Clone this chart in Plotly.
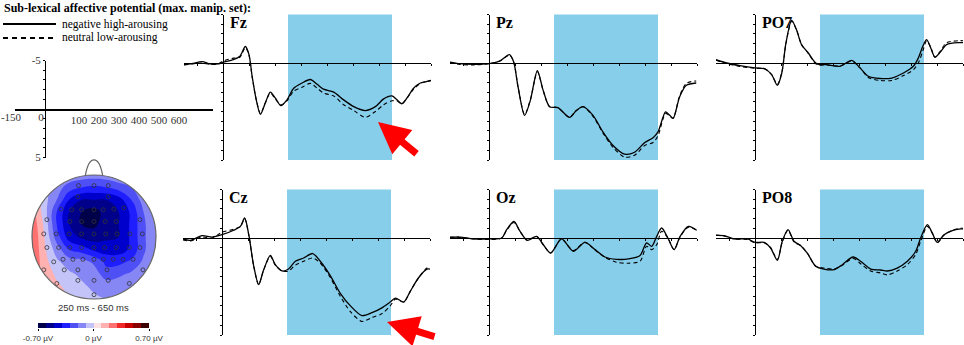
import numpy as np
import plotly.graph_objects as go

W, H = 964, 345

# ---------------- ERP data (µV, positive plotted downward) ----------------
t_fz = [-150, -120, -80, -50, -20, 0, 40, 65, 86, 100, 112, 128, 144, 163, 182, 201, 223, 246, 272, 304,
        336, 362, 387, 426, 464, 503, 547, 586, 618, 650, 669, 688, 708, 733, 759, 785, 800]
fz_neg = [0.17, 0.07, -0.14, 0.1, 0.1, -0.07, -0.34, -0.7, -1.7, -0.86, 1.37, 3.8, 5.3, 4.1, 3.0, 3.6, 4.4, 3.8, 2.6, 2.06,
          1.7, 2.2, 2.7, 3.0, 3.8, 4.5, 4.9, 4.5, 3.7, 3.4, 3.8, 4.2, 3.6, 2.6, 2.06, 1.9, 1.8]
fz_neu = [0.2, 0.1, 0.0, 0.15, 0.1, -0.2, -0.5, -0.6, -1.6, -0.8, 1.4, 3.8, 5.2, 4.1, 3.1, 3.7, 4.3, 3.9, 2.9, 2.5,
          2.1, 2.6, 3.1, 3.4, 4.3, 4.9, 5.6, 5.0, 4.3, 3.9, 3.9, 4.2, 3.6, 2.7, 2.1, 1.9, 1.8]

t_cz = [-150, -122, -77, -38, 0, 45, 71, 87, 103, 122, 141, 160, 186, 205, 231, 256, 282, 314, 349, 378,
        417, 455, 494, 538, 577, 615, 647, 667, 699, 724, 756, 788, 800]
cz_neg = [0.1, 0.24, -0.24, -0.1, -0.34, -0.8, -1.2, -2.06, -0.34, 2.9, 4.8, 3.3, 1.8, 2.75, 3.4, 3.2, 2.4, 2.06, 1.6, 2.4,
          3.9, 5.7, 7.0, 8.0, 7.7, 7.2, 6.6, 6.2, 6.6, 5.5, 4.1, 3.2, 3.2]
cz_neu = [0.2, 0.3, -0.1, 0.0, -0.6, -0.9, -1.2, -2.0, -0.3, 2.9, 4.8, 3.3, 1.9, 2.8, 3.4, 3.4, 2.8, 2.4, 2.06, 2.6,
          4.1, 6.0, 7.6, 8.6, 8.2, 7.8, 7.0, 6.3, 6.6, 5.5, 4.1, 3.1, 3.0]

t_pz = [-150, -113, -62, 0, 41, 79, 95, 112, 137, 159, 186, 208, 233, 265, 310, 336, 362, 400, 438, 477,
        522, 560, 599, 631, 650, 679, 692, 708, 733, 759, 797]
pz_neg = [-0.1, 0.07, 0.14, 0.07, -0.2, -0.86, -0.1, 2.5, 5.4, 3.85, 0.8, 2.8, 4.5, 4.6, 5.6, 4.9, 4.5, 5.4, 7.1, 8.5,
          9.4, 9.2, 8.2, 7.7, 7.1, 5.05, 5.3, 5.7, 3.5, 2.3, 2.06]
pz_neu = [-0.05, 0.15, 0.2, 0.07, -0.2, -0.8, -0.1, 2.5, 5.3, 3.8, 0.9, 2.8, 4.5, 4.6, 5.6, 4.9, 4.5, 5.5, 7.2, 8.7,
          9.7, 9.5, 8.5, 8.2, 7.5, 5.2, 5.4, 5.7, 3.4, 2.1, 1.85]

t_oz = [-150, -112, -60, 0, 49, 68, 96, 119, 147, 183, 209, 237, 279, 324, 369, 408, 446, 491, 536, 581,
        606, 626, 645, 664, 688, 712, 735, 767, 799]
oz_neg = [-0.07, -0.1, 0.1, 0.1, 0.0, -0.86, -1.7, -0.7, 0.24, -0.17, 0.7, 1.55, 0.1, 1.37, 0.45, 1.2, 1.96, 2.2, 2.16, 1.8,
          0.5, 0.86, -0.17, -1.03, 0.0, 1.2, -0.17, -1.2, -0.8]
oz_neu = [-0.1, -0.05, 0.1, 0.15, 0.0, -0.8, -1.6, -0.7, 0.24, -0.17, 0.7, 1.55, 0.1, 1.3, 0.45, 1.25, 2.0, 2.5, 2.6, 2.4,
          0.86, 1.2, 0.7, -0.7, 0.0, 1.2, -0.1, -1.1, -0.8]

t_po7 = [-150, -109, -58, 0, 38, 64, 86, 103, 119, 141, 160, 179, 205, 237, 276, 327, 372, 404, 436, 481,
         526, 571, 609, 628, 645, 660, 676, 692, 712, 737, 788, 800]
po7_neg = [-0.34, 0.0, 0.27, 0.5, 0.6, 1.2, 2.3, 1.03, -2.06, -4.4, -3.4, -1.9, -1.03, 0.07, 0.17, 0.34, -0.27, 0.5, 1.37, 1.6,
           1.55, 1.03, 0.34, -0.5, -1.7, -2.4, -1.55, -0.6, -1.1, -1.9, -2.1, -2.1]
po7_neu = [-0.3, 0.05, 0.35, 0.55, 0.6, 1.2, 2.2, 1.0, -2.0, -4.3, -3.4, -1.9, -1.0, 0.15, 0.2, 0.3, -0.2, 0.5, 1.5, 1.8,
           1.8, 1.3, 0.7, 0.0, -1.2, -2.3, -1.6, -0.6, -1.2, -2.1, -2.3, -2.3]

t_po8 = [-150, -119, -81, -29, 0, 35, 60, 86, 105, 127, 150, 176, 201, 233, 265, 304, 336, 377, 406, 445,
         483, 509, 547, 586, 618, 637, 663, 682, 701, 727, 759, 791, 800]
po8_neg = [-0.27, -0.24, 0.1, 0.1, 0.45, 0.45, 1.03, 2.3, 0.34, -0.86, 0.34, 0.8, 1.55, 2.9, 3.2, 3.26, 2.75, 1.96, 2.4, 3.2,
           3.3, 3.4, 3.1, 2.4, 1.37, 0.0, -1.37, -0.5, 0.45, -0.34, -0.76, -0.93, -0.95]
po8_neu = [-0.3, -0.2, 0.1, 0.15, 0.5, 0.5, 1.0, 2.2, 0.4, -0.8, 0.4, 0.8, 1.55, 2.9, 3.1, 3.2, 2.8, 2.1, 2.65, 3.4,
           3.6, 3.8, 3.4, 2.75, 1.7, 0.35, -1.2, -0.5, 0.5, -0.3, -0.8, -1.0, -1.0]

channel_names = ["Fz", "Cz", "Pz", "Oz", "PO7", "PO8"]
window_ms = [250, 650]
scale_xticks = [100, 200, 300, 400, 500, 600]
scale_xticks_left = [-150, 0]

# ---------------- topography data (µV) ----------------
topo_u = [-1.0, -0.8, -0.6, -0.4, -0.2, 0.0, 0.2, 0.4, 0.6, 0.8, 1.0]
topo_v = [-1.0, -0.8, -0.6, -0.4, -0.2, 0.0, 0.2, 0.4, 0.6, 0.8, 1.0]
topo_z = [
    [0.12, 0.06, 0.02, 0.0, -0.05, -0.08, -0.1, -0.1, -0.08, -0.06, -0.05],
    [0.15, 0.08, 0.02, -0.03, -0.08, -0.12, -0.14, -0.14, -0.12, -0.08, -0.06],
    [0.18, 0.06, -0.02, -0.08, -0.12, -0.15, -0.25, -0.22, -0.18, -0.12, -0.08],
    [0.2, 0.04, -0.08, -0.15, -0.16, -0.22, -0.33, -0.33, -0.28, -0.18, -0.1],
    [0.2, 0.02, -0.15, -0.3, -0.35, -0.42, -0.45, -0.45, -0.38, -0.22, -0.1],
    [0.2, 0.0, -0.25, -0.45, -0.52, -0.55, -0.52, -0.5, -0.38, -0.22, -0.1],
    [0.18, -0.02, -0.3, -0.5, -0.6, -0.62, -0.55, -0.5, -0.38, -0.22, -0.1],
    [0.15, -0.05, -0.3, -0.5, -0.6, -0.65, -0.55, -0.5, -0.38, -0.2, -0.1],
    [0.08, -0.06, -0.2, -0.4, -0.5, -0.5, -0.5, -0.45, -0.3, -0.15, -0.08],
    [0.0, -0.06, -0.15, -0.25, -0.3, -0.32, -0.3, -0.25, -0.2, -0.1, -0.05],
    [0.0, -0.04, -0.08, -0.12, -0.14, -0.15, -0.14, -0.12, -0.08, -0.04, 0.0],
]
elec_u = [-0.25, 0, 0.23, -0.26, 0.23,
          -0.53, -0.36, -0.2, 0, 0.15, 0.32, 0.48,
          -0.76, -0.39, -0.2, 0, 0.18, 0.36, 0.74,
          -0.81, -0.61, -0.4, -0.2, 0, 0.19, 0.37, 0.58, 0.78,
          -0.76, -0.57, -0.39, -0.2, 0, 0.17, 0.36, 0.57, 0.74,
          -0.65, -0.5, -0.34, -0.18, 0, 0.15, 0.31, 0.47, 0.63,
          -0.81, -0.48, -0.26, 0.21, 0.79,
          -0.26, 0, 0.23, -0.6, 0.57, 0]
elec_v = [0.83, 0.83, 0.83, 0.65, 0.65,
          0.45, 0.44, 0.44, 0.44, 0.44, 0.45, 0.47,
          0.28, 0.25, 0.25, 0.25, 0.25, 0.25, 0.28,
          0.05, 0.05, 0.05, 0.05, 0.05, 0.05, 0.05, 0.05, 0.05,
          -0.17, -0.17, -0.17, -0.17, -0.17, -0.17, -0.17, -0.17, -0.17,
          -0.4, -0.36, -0.36, -0.36, -0.36, -0.36, -0.36, -0.36, -0.36,
          -0.53, -0.53, -0.53, -0.53, -0.53,
          -0.7, -0.7, -0.7, -0.75, -0.75, -0.93]
topo_colors = ['#00004A', '#00008A', '#0000CC', '#1E1EFF', '#4F4FF6', '#8686F4', '#C4C4F8',
               '#FFE2E2', '#FFB0B0', '#FF7070', '#F02828', '#C80000', '#8A0000', '#3C0000']
cbar_ticks = [-0.7, 0, 0.7]
cbar_labels = ['-0.70 µV', '0 µV', '0.70 µV']

# ---------------- layout geometry (pixels) ----------------
MS = 0.26     # px per ms
UV = 9.7      # px per µV
panel_pos = [(223, 63), (222, 238), (489, 63), (489, 238), (755, 63), (755, 238)]
panel_data = [(t_fz, fz_neg, fz_neu), (t_cz, cz_neg, cz_neu), (t_pz, pz_neg, pz_neu),
              (t_oz, oz_neg, oz_neu), (t_po7, po7_neg, po7_neu), (t_po8, po8_neg, po8_neu)]

SERIF = "Liberation Serif"
SANS = "Liberation Sans"

fig = go.Figure()
layout = {}
shapes = []
annotations = []

for i, ((ax0, zero), (t, sneg, sneu), name) in enumerate(zip(panel_pos, panel_data, channel_names), start=1):
    s = '' if i == 1 else str(i)
    xl, xr = ax0 - 150 * MS, ax0 + 800 * MS
    yt, yb = zero - 5 * UV, zero + 10 * UV
    layout['xaxis' + s] = dict(domain=[xl / W, xr / W], range=[-150, 800], anchor='free', position=1 - zero / H,
                               showline=True, linecolor='black', linewidth=1.2, ticks='outside', ticklen=2,
                               tickcolor='black', tickwidth=1, tick0=0, dtick=100, showticklabels=False,
                               showgrid=False, zeroline=False, fixedrange=True, automargin=False)
    layout['yaxis' + s] = dict(domain=[1 - yb / H, 1 - yt / H], range=[10, -5], anchor='free', position=ax0 / W,
                               showline=True, linecolor='black', linewidth=1.2, ticks='outside', ticklen=2,
                               tickcolor='black', tickwidth=1, tick0=0, dtick=1, showticklabels=False,
                               showgrid=False, zeroline=False, fixedrange=True, automargin=False)
    fig.add_trace(go.Scatter(x=t, y=sneg, xaxis='x' + s, yaxis='y' + s, mode='lines', showlegend=False,
                             line=dict(color='black', width=1.3, shape='spline', smoothing=0.8), hoverinfo='skip'))
    fig.add_trace(go.Scatter(x=t, y=sneu, xaxis='x' + s, yaxis='y' + s, mode='lines', showlegend=False,
                             line=dict(color='black', width=1.1, dash='4px,3px', shape='spline', smoothing=0.8),
                             hoverinfo='skip'))
    shapes.append(dict(type='rect', xref='x' + s, yref='y' + s + ' domain', x0=window_ms[0], x1=window_ms[1],
                       y0=0, y1=1, fillcolor='#87CEEB', line=dict(width=0), layer='below'))
    annotations.append(dict(x=(ax0 + 5) / W, y=1 - (yt + 8) / H, xref='paper', yref='paper', text='<b>%s</b>' % name,
                            showarrow=False, xanchor='left', yanchor='middle',
                            font=dict(family=SERIF, size=16, color='black')))

# ---------------- scale panel ----------------
sc_axis_x, sc_zero = 45, 109
sc_l, sc_r = 15, 213
sc_range = [-150, -150 + (sc_r - sc_l) / 0.2]
layout['xaxis7'] = dict(domain=[sc_l / W, sc_r / W], range=sc_range, anchor='free',
                        position=1 - sc_zero / H, showline=True, linecolor='black', linewidth=1.5, ticks='',
                        tickmode='array', tickvals=scale_xticks, ticktext=[str(v) for v in scale_xticks],
                        ticklabelshift=14, tickfont=dict(family=SERIF, size=11, color='#333'),
                        ticklabeloverflow='allow',
                        showgrid=False, zeroline=False, fixedrange=True, automargin=False)
layout['xaxis8'] = dict(overlaying='x7', range=sc_range, anchor='free',
                        position=1 - sc_zero / H, showline=False, ticks='', tickmode='array',
                        tickvals=scale_xticks_left, ticktext=[str(v) for v in scale_xticks_left],
                        ticklabelshift=-4, ticklabeloverflow='allow',
                        tickfont=dict(family=SERIF, size=11, color='#333'),
                        showgrid=False, zeroline=False, fixedrange=True, automargin=False)
yvals = list(range(-5, 6))
layout['yaxis7'] = dict(domain=[1 - (sc_zero + 5 * UV) / H, 1 - (sc_zero - 5 * UV) / H], range=[5, -5],
                        anchor='free', position=sc_axis_x / W, showline=True, linecolor='black', linewidth=1.2,
                        ticks='outside', ticklen=2, tickcolor='black', tickmode='array', tickvals=yvals,
                        ticktext=[str(v) if abs(v) == 5 else '' for v in yvals],
                        tickfont=dict(family=SERIF, size=11, color='#333'),
                        showgrid=False, zeroline=False, fixedrange=True, automargin=False)
fig.add_trace(go.Scatter(x=[None], y=[None], xaxis='x7', yaxis='y7', showlegend=False, hoverinfo='skip'))
fig.add_trace(go.Scatter(x=[None], y=[None], xaxis='x8', yaxis='y7', showlegend=False, hoverinfo='skip'))

# ---------------- topography ----------------
tc_x, tc_y, tr = 94, 237, 62
ext = 1.3
layout['xaxis9'] = dict(domain=[(tc_x - tr * ext) / W, (tc_x + tr * ext) / W], range=[-ext, ext], visible=False,
                        fixedrange=True, anchor='y9', automargin=False)
layout['yaxis9'] = dict(domain=[1 - (tc_y + tr * ext) / H, 1 - (tc_y - tr * ext) / H], range=[-ext, ext],
                        visible=False, fixedrange=True, anchor='x9', automargin=False)
n = len(topo_colors)
cs = []
for k, c in enumerate(topo_colors):
    cs.append([k / n, c])
    cs.append([(k + 1) / n, c])
fig.add_trace(go.Contour(x=topo_u, y=topo_v, z=topo_z, xaxis='x9', yaxis='y9', colorscale=cs, zmin=-0.7, zmax=0.7,
                         contours=dict(start=-0.7, end=0.7, size=0.1, coloring='fill', showlines=False),
                         line=dict(width=0, smoothing=1.3), hoverinfo='skip', showscale=False))
# mask outside the head circle
ang = np.linspace(0, -2 * np.pi, 121)
mask = 'M -1.2,-1.2 L 1.2,-1.2 L 1.2,1.2 L -1.2,1.2 Z M ' + ' L '.join(
    '%.4f,%.4f' % (np.cos(a), np.sin(a)) for a in ang) + ' Z'
shapes.append(dict(type='path', xref='x9', yref='y9', path=mask, fillcolor='white', line=dict(width=0),
                   layer='above'))
shapes.append(dict(type='circle', xref='x9', yref='y9', x0=-1, y0=-1, x1=1, y1=1, line=dict(color='#666', width=1.2),
                   layer='above'))
shapes.append(dict(type='path', xref='x9', yref='y9', path='M -0.14,0.99 C -0.08,1.33 0.08,1.33 0.14,0.99',
                   line=dict(color='#666', width=1.2), layer='above'))
fig.add_trace(go.Scatter(x=elec_u, y=elec_v, xaxis='x9', yaxis='y9', mode='markers', showlegend=False,
                         hoverinfo='skip',
                         marker=dict(symbol='circle-open', size=4, color='#333', line=dict(width=0.8))))
annotations.append(dict(x=93 / W, y=1 - 307 / H, xref='paper', yref='paper', text='250 ms - 650 ms',
                        xanchor='center', yanchor='middle',
                        showarrow=False, font=dict(family=SANS, size=9.5, color='#333')))

# colour bar drawn as a one-row heatmap on its own axis
cb_centres = [-0.7 + 0.1 * (k + 0.5) for k in range(n)]
layout['xaxis10'] = dict(domain=[38 / W, 149 / W], range=[-0.7, 0.7], anchor='y10', showline=False,
                         ticks='outside', ticklen=2, tickcolor='black', tickmode='array', tickvals=cbar_ticks,
                         ticktext=cbar_labels, tickfont=dict(family=SANS, size=8, color='#333'),
                         ticklabeloverflow='allow',
                         showgrid=False, zeroline=False, fixedrange=True, automargin=False)
layout['yaxis10'] = dict(domain=[1 - 328 / H, 1 - 323 / H], range=[-0.5, 0.5], anchor='x10', visible=False,
                         fixedrange=True, automargin=False)
fig.add_trace(go.Heatmap(x=cb_centres, y=[0], z=[cb_centres], xaxis='x10', yaxis='y10', colorscale=cs,
                         zmin=-0.7, zmax=0.7, showscale=False, hoverinfo='skip'))

# ---------------- title & legend ----------------
annotations.append(dict(x=2 / W, y=1 - 8 / H, xref='paper', yref='paper', xanchor='left', yanchor='middle',
                        text='<b>Sub-lexical affective potential (max. manip. set):</b>', showarrow=False,
                        font=dict(family=SERIF, size=12, color='black')))
legend_labels = ['negative high-arousing', 'neutral low-arousing']
legend_y = [24, 38]
legend_dash = ['solid', '5px,4px']
for lab, ly, dsh in zip(legend_labels, legend_y, legend_dash):
    shapes.append(dict(type='line', xref='paper', yref='paper', x0=3 / W, x1=56 / W, y0=1 - ly / H, y1=1 - ly / H,
                       line=dict(color='black', width=2, dash=dsh)))
    annotations.append(dict(x=60 / W, y=1 - ly / H, xref='paper', yref='paper', xanchor='left', yanchor='middle',
                            text=lab, showarrow=False, font=dict(family=SERIF, size=11.5, color='black')))

# ---------------- red arrows ----------------
for (tx, ty, dx, dy) in [(378, 122, 40, 33), (387, 322, 49, 15)]:
    annotations.append(dict(x=tx / W, y=1 - ty / H, xref='paper', yref='paper', ax=dx, ay=dy, text='',
                            showarrow=True, arrowhead=2, arrowsize=0.9, arrowwidth=7, arrowcolor='#FF0000',
                            standoff=0))

fig.update_layout(width=W, height=H, margin=dict(l=0, r=0, t=0, b=0, autoexpand=False), paper_bgcolor='white',
                  plot_bgcolor='rgba(0,0,0,0)', showlegend=False, shapes=shapes, annotations=annotations,
                  **layout)
fig.write_html("out.html", config={'displayModeBar': False, 'staticPlot': True},
               post_script="document.body.style.margin='0px';document.body.style.overflow='hidden';")
